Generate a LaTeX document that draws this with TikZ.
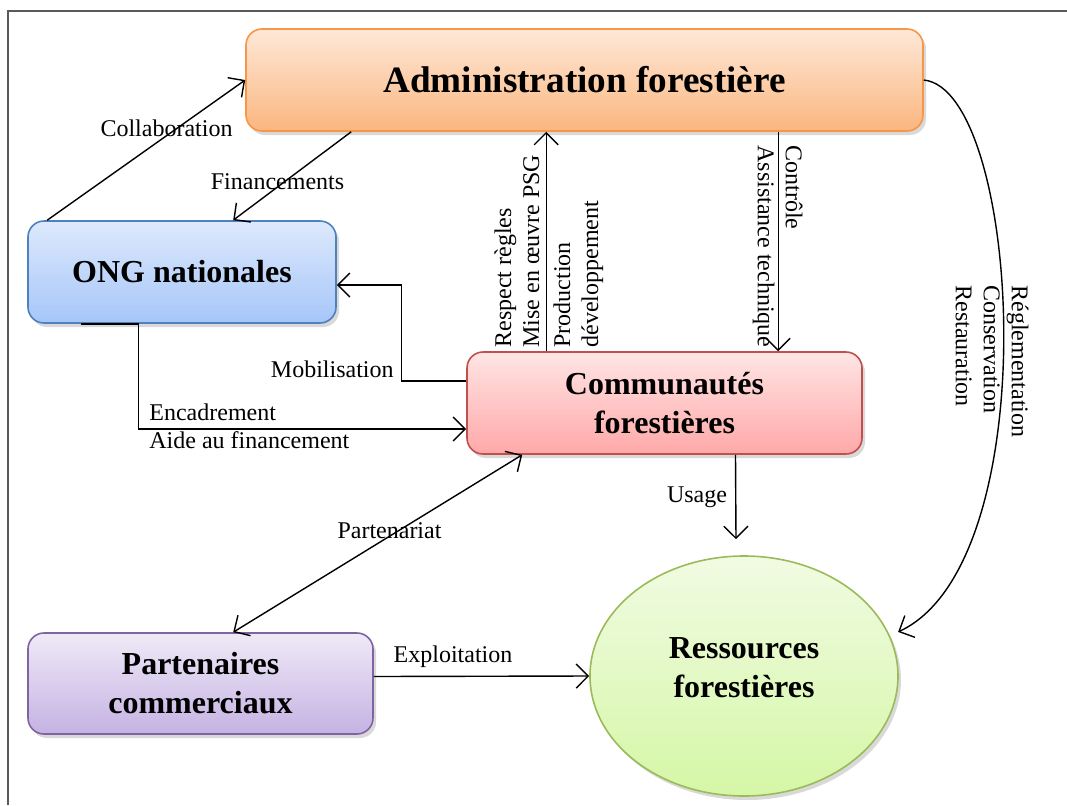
\documentclass[tikz,border=0pt]{standalone}
\usepackage{fontspec}
\setmainfont{Liberation Serif}
\usepackage{tikz}
\usetikzlibrary{positioning,arrows.meta,shapes.geometric,calc,shadows}
\definecolor{framec}{HTML}{5A5A5A}
\definecolor{admtop}{HTML}{FEE8D8}
\definecolor{admbot}{HTML}{FBB67F}
\definecolor{admline}{HTML}{F79646}
\definecolor{ongtop}{HTML}{DDE9FC}
\definecolor{ongbot}{HTML}{A6C6F9}
\definecolor{ongline}{HTML}{4F81BD}
\definecolor{comtop}{HTML}{FFE5E5}
\definecolor{combot}{HTML}{FFA8A8}
\definecolor{comline}{HTML}{C0504D}
\definecolor{partop}{HTML}{EFEAF7}
\definecolor{parbot}{HTML}{C5B2E3}
\definecolor{parline}{HTML}{8064A2}
\definecolor{restop}{HTML}{F1FBE3}
\definecolor{resbot}{HTML}{D5F7A6}
\definecolor{resline}{HTML}{9BBB59}

\begin{document}
\begin{tikzpicture}[x=0.5pt,y=-0.5pt,
  every node/.style={font=\fontsize{12}{14}\selectfont},
  box/.style={rounded corners=8pt,line width=0.8pt,inner sep=2pt,align=center,
    font=\fontsize{16}{19.5}\selectfont\bfseries,
    drop shadow={opacity=0.3,shadow xshift=1.5pt,shadow yshift=-2pt}},
  lbl/.style={inner sep=1pt},
  vlbl/.style={inner sep=1pt,align=left},
  arr/.style={-{Straight Barb[length=6pt,width=12pt]},line width=0.7pt},
  arr2/.style={{Straight Barb[length=6pt,width=12pt]}-{Straight Barb[length=6pt,width=12pt]},line width=0.7pt}]
\useasboundingbox (0,0) rectangle (1067,805);
\draw[framec,line width=0.6pt] (8,805) -- (8,11) -- (1067,11);
% les acteurs
\node[box,draw=admline,top color=admtop,bottom color=admbot,minimum width=338.5pt,minimum height=51pt,
  font=\fontsize{18.6}{22}\selectfont\bfseries] (adm) at (584.5,80) {Administration forestière};
\node[box,draw=ongline,top color=ongtop,bottom color=ongbot,minimum width=154pt,minimum height=51pt] (ong) at (182,272) {ONG nationales};
\node[box,draw=comline,top color=comtop,bottom color=combot,minimum width=197.5pt,minimum height=51pt] (com) at (664.5,403) {Communautés\\forestières};
\node[box,draw=parline,top color=partop,bottom color=parbot,minimum width=172.5pt,minimum height=50.5pt] (par) at (200.5,683.5) {Partenaires\\commerciaux};
\node[box,ellipse,draw=resline,top color=restop,bottom color=resbot,minimum width=154pt,minimum height=120pt,
  text depth=8pt] (res) at (744,676) {Ressources\\forestières};
% les relations
\draw[arr] ([xshift=10pt]ong.north west) -- (adm.west);
\draw[arr] ([xshift=53pt]adm.south west) -- ([xshift=103pt]ong.north west);
\draw[arr] ([yshift=11pt]com.west) -- ++(-65,0) |- ([yshift=-6.5pt]ong.east);
\draw[arr] ([xshift=27pt]ong.south west) -- ++(57,0) |- ([yshift=-13pt]com.west);
\coordinate (up) at ([xshift=40pt]com.north west);
\coordinate (dn) at ([xshift=266.5pt]adm.south west);
\draw[arr] (up) -- (up |- adm.south);
\draw[arr] (dn) -- (dn |- com.north);
\draw[arr] ([xshift=35.5pt]com.south) -- ([xshift=-4pt,yshift=8pt]res.north);
\draw[arr2] ([xshift=103pt]par.north west) -- ([xshift=28pt]com.south west);
\draw[arr] ([yshift=3.5pt]par.east) -- (res.west);
\draw[arr] (adm.east) .. controls +(97,10) and +(150,-70) .. ([xshift=5pt]res.17);
% les etiquettes
\node[lbl] (lcol) at (166.5,128) {Collaboration};
\node[lbl] (lfin) at (277.5,182) {Financements};
\node[lbl,anchor=east] (lmob) at (396,369) {Mobilisation};
\node[vlbl,anchor=west] (lenc) at (147,426) {Encadrement\\Aide au financement};
\node[vlbl,rotate=90,anchor=north west] (lres) at (492,350) {Respect règles\\Mise en œuvre PSG};
\node[vlbl,rotate=90,anchor=north west] (lpro) at (551,350) {Production\\développement};
\node[vlbl,rotate=-90,anchor=north west] (lctl) at (805,143) {Contrôle\\Assistance technique};
\node[vlbl,rotate=-90,anchor=north west] (lreg) at (1031,283) {Réglementation\\Conservation\\Restauration};
\node[lbl] (lusa) at (697,497) {Usage};
\node[lbl] (lpar) at (389.5,531) {Partenariat};
\node[lbl] (lexp) at (453,657) {Exploitation};
\end{tikzpicture}
\end{document}
